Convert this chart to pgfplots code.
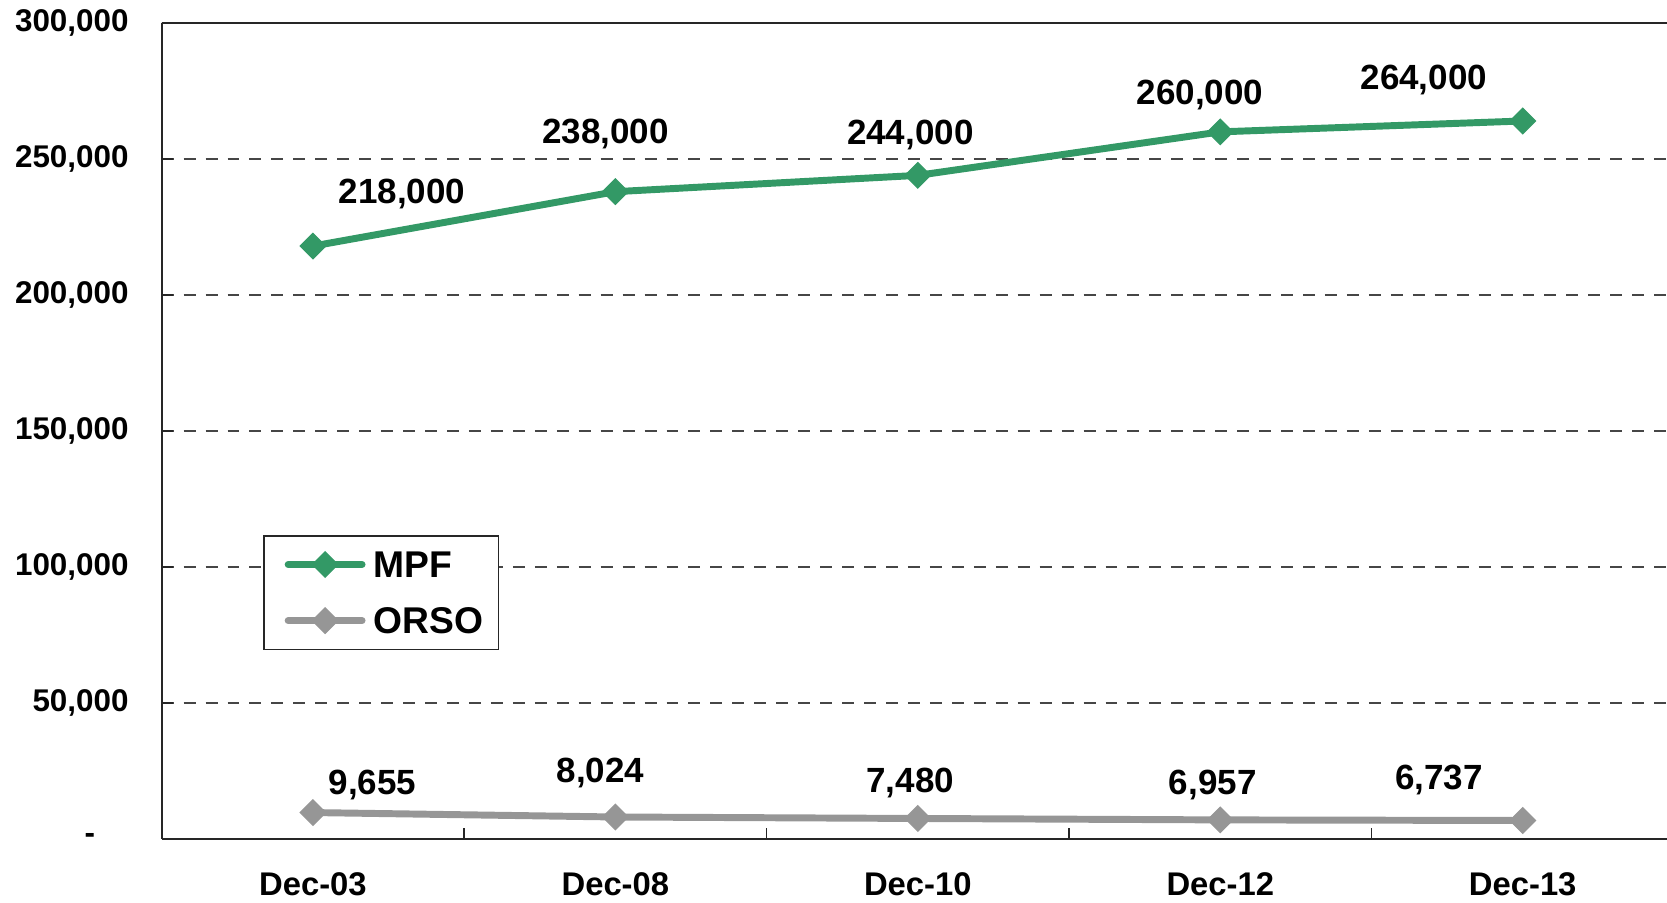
\documentclass[border=0pt]{standalone}
\usepackage{fontspec}
\setmainfont{Liberation Sans}
\usepackage{pgfplots}
\usepackage{pgfplotstable}
\pgfplotsset{compat=1.18}
\definecolor{mpfgreen}{RGB}{51,153,102}
\definecolor{orsogray}{RGB}{150,150,150}
\definecolor{gridgray}{RGB}{70,70,70}

\pgfplotstableread{
x y dx dy lab
0 218000 32.1 18.8 218,000
1 238000 -3.6 20.7 238,000
2 244000 -2.7 14.5 244,000
3 260000 -7.3 13.4 260,000
4 264000 -35.6 14.9 264,000
}\mpf
\pgfplotstableread{
x y dx dy lab
0 9655 21.4 10.0 9,655
1 8024 -5.4 15.7 8,024
2 7480 -2.7 12.6 7,480
3 6957 -2.7 12.6 6,957
4 6737 -30.2 14.5 6,737
}\orso

\pgfplotsset{
  legend image code/.code={\path (-2.1pt,0pt);\draw[mark repeat=2, mark phase=2, line cap=round, #1] plot coordinates {(0pt,0pt) (13.3pt,0pt) (26.6pt,0pt)};}
}

\begin{document}
\begin{tikzpicture}
\begin{axis}[
  at={(58.2pt,22.75pt)}, anchor=south west,
  scale only axis, width=544.3pt, height=293.6pt,
  xmin=-0.5, xmax=4.5, ymin=0, ymax=300000,
  axis lines*=left,
  clip=false,
  axis line style={line width=0.6pt, draw=black!85},
  tick align=inside,
  xtick={0,1,2,3,4},
  xticklabels={Dec-03,Dec-08,Dec-10,Dec-12,Dec-13},
  major x tick style={draw=none},
  minor xtick={0.5,1.5,2.5,3.5},
  minor tick length=4pt,
  minor x tick style={line width=0.6pt, draw=black!85},
  ytick={0,50000,100000,150000,200000,250000,300000},
  yticklabels={{-\hspace*{12pt}},{50,000},{100,000},{150,000},{200,000},{250,000},{300,000}},
  major tick length=4pt,
  major y tick style={line width=0.6pt, draw=black!85},
  ymajorgrids=true,
  grid style={gridgray, line width=0.5pt, dash pattern=on 4.3pt off 3.6pt},
  yticklabel style={font=\bfseries\fontsize{11.3}{13}\selectfont, anchor=east, xshift=-8.4pt},
  xticklabel style={font=\bfseries\fontsize{11.8}{14}\selectfont, anchor=center, yshift=-16.4pt},
  legend style={at={(0.0671,0.3722)}, anchor=north west, draw=black!85, line width=0.5pt,
    inner xsep=5.4pt, inner ysep=3.5pt, row sep=6.6pt, column sep=2.9pt,
    font=\bfseries\fontsize{13.4}{15}\selectfont,
    nodes={inner xsep=0pt, inner ysep=2pt, text height=9.6pt, text depth=0pt}},
  legend cell align=left,
]
\addplot[mpfgreen, line width=2.5pt, mark=square*, mark size=3.25pt,
  mark options={rotate=45, line width=0.4pt, fill=mpfgreen},
  visualization depends on={\thisrow{dx}\as\dx},
  visualization depends on={\thisrow{dy}\as\dy},
  point meta=explicit symbolic,
  nodes near coords,
  nodes near coords style={anchor=center, xshift=\dx pt, yshift=\dy pt,
    font=\bfseries\fontsize{12.6}{14}\selectfont, text=black}
] table[x=x, y=y, meta=lab] {\mpf};
\addlegendentry{MPF}
\addplot[orsogray, line width=2.5pt, mark=square*, mark size=3.25pt,
  mark options={rotate=45, line width=0.4pt, fill=orsogray},
  visualization depends on={\thisrow{dx}\as\dx},
  visualization depends on={\thisrow{dy}\as\dy},
  point meta=explicit symbolic,
  nodes near coords,
  nodes near coords style={anchor=center, xshift=\dx pt, yshift=\dy pt,
    font=\bfseries\fontsize{12.6}{14}\selectfont, text=black}
] table[x=x, y=y, meta=lab] {\orso};
\addlegendentry{ORSO}
\draw[line width=0.6pt, black!85] (rel axis cs:0,1) -- (rel axis cs:1,1);
\end{axis}
\pgfresetboundingbox
\useasboundingbox (0,0) rectangle (600pt,324.66pt);
\end{tikzpicture}
\end{document}
